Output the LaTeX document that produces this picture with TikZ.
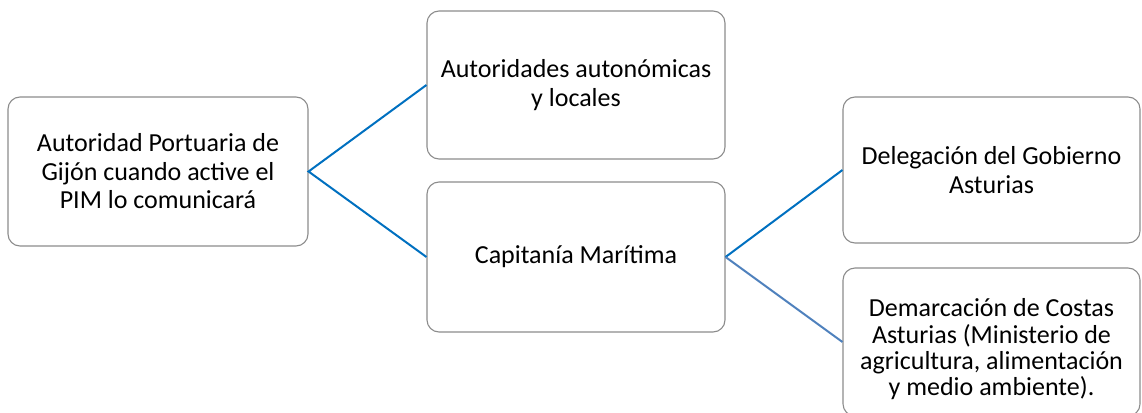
\documentclass[tikz,border=0pt]{standalone}
\usepackage{fontspec}
\setmainfont{Carlito}
\definecolor{edgeblue}{HTML}{0070C0}
\definecolor{edgelight}{HTML}{4F81BD}
\definecolor{boxgray}{HTML}{8C8C8C}
\begin{document}
\begin{tikzpicture}[x=1pt,y=1pt,
  box/.style={draw=boxgray,line width=1.1pt,rounded corners=12pt,fill=white,
    align=center,font=\fontsize{26}{28.5}\selectfont,inner sep=2pt},
  link/.style={draw=edgeblue,line width=2pt},
  linklight/.style={draw=edgelight,line width=2pt}]
\useasboundingbox (0,0) rectangle (1142,-412);
\clip (0,0) rectangle (1142,-412);
\node[box,minimum width=300pt,minimum height=149pt] (apg) at (158,-171.5)
  {Autoridad Portuaria de\\Gijón cuando active el\\PIM lo comunicará};
\node[box,minimum width=298pt,minimum height=148pt] (aut) at (576,-85)
  {Autoridades autonómicas\\y locales};
\node[box,minimum width=298pt,minimum height=150pt] (cap) at (576,-257)
  {Capitanía Marítima};
\node[box,minimum width=297pt,minimum height=146pt] (del) at (991.5,-170)
  {Delegación del Gobierno\\Asturias};
\node[box,minimum width=297pt,minimum height=148pt,
  font=\fontsize{26}{26.3}\selectfont] (dem) at (991.5,-342)
  {\rule{0pt}{33pt}Demarcación de Costas\\Asturias (Ministerio de\\agricultura, alimentación\\y medio ambiente).};
\draw[link] (aut.west) -- (apg.east) -- (cap.west);
\draw[link] (del.west) -- (cap.east);
\draw[linklight] (cap.east) -- (dem.west);
\end{tikzpicture}
\end{document}
